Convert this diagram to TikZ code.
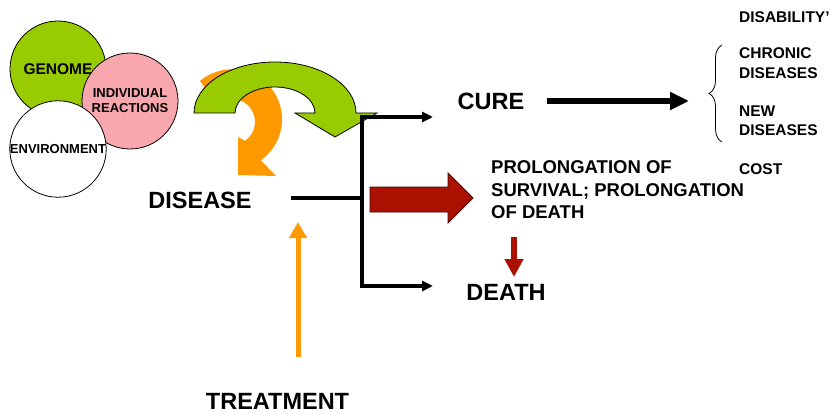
\documentclass[tikz,border=0pt]{standalone}
\usepackage{fontspec}
\setmainfont{Liberation Sans}
\usetikzlibrary{arrows.meta,decorations.pathreplacing}
\definecolor{genomegreen}{HTML}{99CC00}
\definecolor{reactpink}{HTML}{F9A7AF}
\definecolor{treatorange}{HTML}{FF9900}
\definecolor{deathred}{HTML}{AA1100}
\tikzset{
  big/.style={font=\fontsize{23.5}{28}\selectfont\bfseries, inner sep=0pt},
  mid/.style={font=\fontsize{18.5}{22.5}\selectfont\bfseries, inner sep=0pt, align=left},
  side/.style={font=\fontsize{15.5}{19.5}\selectfont\bfseries, inner sep=0pt, align=left, anchor=west},
  blob/.style={circle, draw, line width=0.8pt, minimum size=96pt, inner sep=0pt,
    align=center, font=\fontsize{13}{15}\selectfont\bfseries},
  tree/.style={line width=4pt},
  curearr/.style={line width=6pt, -{Triangle[length=19pt, width=17pt]}},
  blockarr/.style={fill=#1, draw=black!60!#1, line width=0.8pt},
}

\begin{document}
\begin{tikzpicture}[x=1pt, y=-1pt]
  \useasboundingbox (0,0) rectangle (834,414);

  % the three causes
  \node[blob, fill=genomegreen, font=\fontsize{15.5}{18}\selectfont\bfseries] (genome) at (58,69) {GENOME};
  \node[blob, fill=reactpink] (reactions) at (130,101) {INDIVIDUAL\\REACTIONS};
  \node[blob, fill=white] (environment) at (58,149) {ENVIRONMENT};

  % curved arrows
  \fill[treatorange] (199.9,81) arc[start angle=230, end angle=415, radius=50]
    -- (276,176) -- (238,175) -- (238,137) -- (245.2,140.8)
    arc[start angle=55, end angle=-130, radius=23] -- cycle;
  \draw[fill=genomegreen, line width=0.8pt] (194,113) arc[start angle=180, end angle=360, x radius=81, y radius=51]
    -- (377,113) -- (335,137) -- (295,113) -- (315,113)
    arc[start angle=0, end angle=-180, x radius=40, y radius=26] -- cycle;

  \node[big] (disease) at (200,200) {DISEASE};
  \node[big] (cure) at (491,101) {CURE};
  \node[mid, anchor=west] (prolong) at (491,190) {PROLONGATION OF\\SURVIVAL; PROLONGATION\\OF DEATH};
  \node[big] (death) at (506,292) {DEATH};
  \node[big] (treatment) at (277.5,401) {TREATMENT};

  \node[side] (disability) at (739,17) {DISABILITY’};
  \node[side] (chronic) at (739,63) {CHRONIC\\DISEASES};
  \node[side] (newdis) at (739,120.5) {NEW\\DISEASES};
  \node[side] (cost) at (739,169) {COST};

  \coordinate (split) at (362,198);
  \coordinate (top) at (362,117);
  \coordinate (bot) at (362,286);
  \coordinate (curetip) at (433,117);
  \coordinate (deathtip) at (433,286);
  \coordinate (cureend) at (689,101);
  \coordinate (trtail) at (298,357);
  \coordinate (trtip) at (298,222);

  % outcomes
  \draw[tree] ([xshift=39pt]disease.east |- split) -- (split);
  \draw[tree, {Triangle[length=11pt, width=10pt]}-{Triangle[length=11pt, width=10pt]}]
    (curetip) -- (top) -- (bot) -- (deathtip);
  \draw[curearr] ([xshift=22pt]cure.east) -- (cureend);
  \draw[decorate, decoration={brace, amplitude=13pt}, line width=0.8pt] (722,142) -- (722,45);

  \draw[blockarr=deathred] (370,187) -- (448,187) -- (448,173) -- (473,198)
    -- (448,223) -- (448,212) -- (370,212) -- cycle;
  \draw[deathred, line width=6pt, -{Triangle[length=18pt, width=18pt]}] (514,237) -- (514,277);

  \draw[treatorange, line width=5pt, -{Triangle[length=16pt, width=17pt]}] (trtail) -- (trtip);
\end{tikzpicture}
\end{document}
